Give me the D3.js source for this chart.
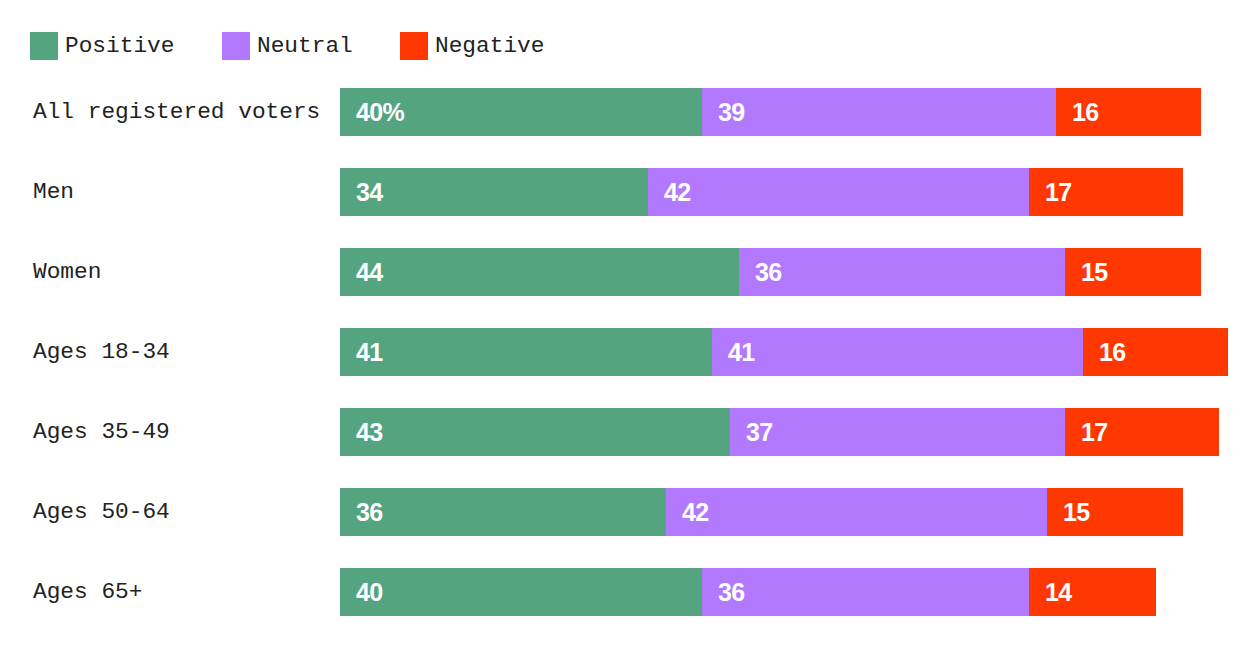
<!DOCTYPE html>
<html><head><meta charset="utf-8">
<script src="https://cdn.jsdelivr.net/npm/d3@7"></script>
<style>body{margin:0;background:#fff}svg{display:block}</style>
</head><body><svg id="c" width="1260" height="660"></svg>
<script>
const categories = ["All registered voters","Men","Women","Ages 18-34","Ages 35-49","Ages 50-64","Ages 65+"];
const seriesNames = ["Positive","Neutral","Negative"];
const positive = [40,34,44,41,43,36,40];
const neutral  = [39,42,36,41,37,42,36];
const negative = [16,17,15,16,17,15,14];
const colors = ["#55a480","#b278fd","#ff3700"];

const svg = d3.select("#c");
const x = d3.scaleLinear().domain([0,98]).range([340,1228]);
const y = d3.scaleBand().domain(categories).range([72,632]).paddingInner(0.4).paddingOuter(0.2);

const data = categories.map((c,i)=>({cat:c, Positive:positive[i], Neutral:neutral[i], Negative:negative[i]}));
const stacked = d3.stack().keys(seriesNames)(data);

const monoFont = "'Liberation Mono','DejaVu Sans Mono',monospace";

// legend
const legX = [30,222,400];
const leg = svg.append("g");
seriesNames.forEach((s,i)=>{
  leg.append("rect").attr("x",legX[i]).attr("y",32).attr("width",28).attr("height",28).attr("fill",colors[i]);
  leg.append("text").attr("x",legX[i]+35).attr("y",52).text(s)
    .attr("font-family",monoFont).attr("font-size",22.8).attr("fill","#222");
});

// category labels
svg.append("g").selectAll("text").data(categories).join("text")
  .attr("x",33).attr("y",d=>y(d)+y.bandwidth()/2+6)
  .attr("font-family",monoFont).attr("font-size",22.8).attr("fill","#222")
  .text(d=>d);

stacked.forEach((layer,si)=>{
  const g = svg.append("g");
  g.selectAll("rect").data(layer).join("rect")
    .attr("x",d=>Math.round(x(d[0]))).attr("width",d=>Math.round(x(d[1]))-Math.round(x(d[0])))
    .attr("y",d=>y(d.data.cat)).attr("height",y.bandwidth())
    .attr("shape-rendering","crispEdges")
    .attr("fill",colors[si]);
  g.selectAll("text").data(layer).join("text")
    .attr("x",d=>Math.round(x(d[0]))+16).attr("y",d=>y(d.data.cat)+y.bandwidth()/2+9)
    .attr("font-family","'Liberation Sans',Arial,sans-serif").attr("font-weight","bold")
    .attr("font-size",25).attr("letter-spacing","-0.6px").attr("fill","#fff")
    .text((d,i)=> (si===0 && i===0) ? d.data[seriesNames[si]]+"%" : d.data[seriesNames[si]]);
});
</script></body></html>
